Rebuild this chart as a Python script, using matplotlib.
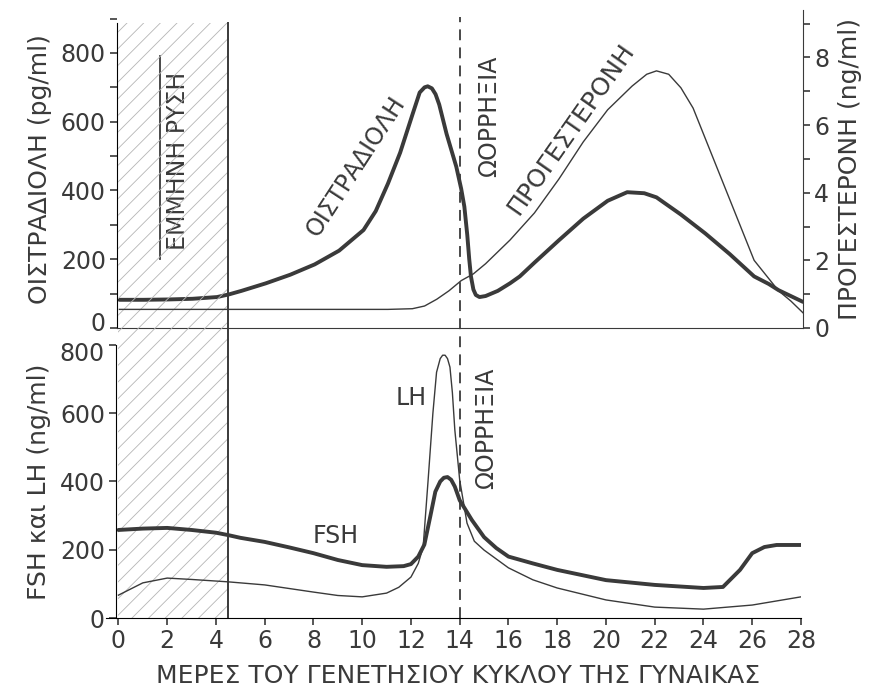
import matplotlib
matplotlib.use("Agg")
import matplotlib.pyplot as plt
from matplotlib.patches import Rectangle
from matplotlib.ticker import MultipleLocator
from matplotlib.transforms import ScaledTranslation

plt.rcParams['font.family'] = ['DejaVu Sans']
plt.rcParams['hatch.linewidth'] = 0.6

INK = '#3a3a3a'
FS = 17      # tick labels and texts inside the plot
FS_LAB = 18  # axis labels

# top panel: estradiol (pg/ml, left axis)
estr_day = [0, 1, 2, 3, 4, 4.5, 5, 6, 7, 8, 9, 10, 10.5, 11, 11.5, 12, 12.3, 12.5, 12.63, 12.8,
            12.95, 13.1, 13.4, 13.8, 14.0, 14.13, 14.25, 14.33, 14.4, 14.5, 14.6, 14.75, 15.0, 15.5,
            16.0, 16.4, 17, 18, 19, 20, 20.8, 21.5, 22, 23, 24, 25, 26, 26.6, 27, 28]
estr_val = [82, 82, 83, 85, 90, 98, 108, 130, 155, 185, 225, 285, 340, 420, 510, 620, 685, 700, 703, 697,
            680, 650, 565, 469, 405, 353, 270, 200, 150, 112, 96, 90, 93, 108,
            130, 150, 190, 255, 318, 370, 395, 392, 380, 330, 275, 215, 150, 128, 110, 76]

# top panel: progesterone (ng/ml, right axis)
prog_day = [0, 2, 4, 6, 8, 10, 11, 12, 12.5, 13, 13.5, 14, 14.5, 15, 16, 17, 18, 19, 20,
            21, 21.6, 22, 22.5, 23, 23.5, 24, 25, 26, 27, 27.5, 28]
prog_val = [0.55, 0.55, 0.55, 0.55, 0.55, 0.55, 0.55, 0.57, 0.65, 0.85, 1.1, 1.4, 1.6, 1.9, 2.6, 3.4, 4.4, 5.5, 6.45,
            7.15, 7.5, 7.6, 7.5, 7.1, 6.5, 5.6, 3.8, 2.0, 1.1, 0.8, 0.45]

# bottom panel: FSH and LH (ng/ml)
fsh_day = [0, 1, 2, 3, 4, 4.5, 5, 6, 7, 8, 9, 10, 11, 11.7, 12, 12.3, 12.55, 12.8, 13.0, 13.2, 13.35, 13.5,
           13.65, 13.8, 14, 14.5, 15, 15.5, 16, 17, 18, 20, 22, 24, 24.8, 25.5, 26, 26.5, 27, 28]
fsh_val = [258, 262, 264, 258, 250, 243, 235, 223, 207, 190, 170, 155, 150, 152, 158, 180, 215, 300, 370, 400, 411, 413,
           405, 385, 345, 287, 237, 205, 180, 160, 141, 111, 97, 88, 91, 141, 190, 208, 214, 214]
lh_day = [0, 0.5, 1, 2, 3, 4.5, 6, 8, 9, 10, 11, 11.5, 12, 12.3, 12.5, 12.7, 12.9, 13.05, 13.2, 13.3, 13.4,
          13.5, 13.6, 13.7, 13.8, 14, 14.3, 14.6, 15, 16, 17, 18, 20, 22, 24, 26, 28]
lh_val = [67, 85, 103, 117, 113, 106, 97, 76, 66, 62, 73, 90, 120, 160, 208, 400, 600, 720, 760, 770, 770,
          760, 735, 660, 551, 404, 278, 225, 199, 147, 112, 88, 53, 32, 26, 38, 62]

days = list(range(0, 29, 2))
menses_end = 4.5
ovulation = 14

fig = plt.figure(figsize=(8.69, 6.93), dpi=100)
ax_top = fig.add_axes([0.1346, 0.5267, 0.7894, 0.4589])
ax_bot = fig.add_axes([0.1335, 0.1082, 0.7882, 0.3940])
ax_top.set_facecolor('none')

# ---- bottom panel
ax_bot.set_xlim(-0.1, 28)
ax_bot.set_ylim(0, 800)
ax_bot.plot(fsh_day, fsh_val, color=INK, lw=2.8, solid_capstyle='round')
ax_bot.plot(lh_day, lh_val, color=INK, lw=1.0)
for s in ['top', 'right']:
    ax_bot.spines[s].set_visible(False)
ax_bot.spines['bottom'].set_bounds(-0.5, 28)
ax_bot.set_xticks(days)
ax_bot.set_yticks([0, 200, 400, 600, 800])
ax_bot.tick_params(direction='out', length=5, width=1.2, colors=INK, labelsize=FS, pad=3)
ax_bot.set_ylabel('FSH και LH (ng/ml)', fontsize=FS_LAB, color=INK, labelpad=6)
ax_bot.set_xlabel('ΜΕΡΕΣ ΤΟΥ ΓΕΝΕΤΗΣΙΟΥ ΚΥΚΛΟΥ ΤΗΣ ΓΥΝΑΙΚΑΣ', fontsize=FS_LAB, color=INK, labelpad=8)

# menses hatch spanning both panels, plus the vertical lines
ax_bot.add_patch(Rectangle((0, 0), menses_end, 1743, fill=False, hatch='//',
                           edgecolor='#b5b5b5', lw=0, clip_on=False, zorder=0))
ax_bot.plot([menses_end, menses_end], [0, 1743], color=INK, lw=1.4, clip_on=False)
ax_bot.plot([ovulation, ovulation], [0, 1760], color=INK, lw=1.3, ls=(0, (6, 4)), clip_on=False)

ax_bot.text(12.0, 645, 'LH', fontsize=FS, color=INK, ha='center', va='center')
ax_bot.text(8.9, 240, 'FSH', fontsize=FS, color=INK, ha='center', va='center')
ax_bot.text(15.1, 555, 'ΩΟΡΡΗΞΙΑ', fontsize=FS, color=INK, rotation=90, ha='center', va='center')

# ---- top panel
ax_top.set_xlim(-0.1, 28)
ax_top.set_ylim(0, 925)
ax_top.plot(estr_day, estr_val, color=INK, lw=2.8, solid_capstyle='round')
ax_top.spines['top'].set_visible(False)
ax_top.spines['right'].set_visible(False)
ax_top.spines['left'].set_bounds(0, 887)
ax_top.spines['bottom'].set_color(INK)
ax_top.set_xticks([])
ax_top.set_yticks([0, 200, 400, 600, 800])
ax_top.yaxis.set_minor_locator(MultipleLocator(100))
ax_top.tick_params(axis='y', which='both', direction='out', length=5, width=1.2, colors=INK, labelsize=FS, pad=3)
ax_top.set_ylabel('ΟΙΣΤΡΑΔΙΟΛΗ (pg/ml)', fontsize=FS_LAB, color=INK, labelpad=6)

ax_r = ax_top.twinx()
ax_r.set_ylim(0, 9.4)
ax_r.plot(prog_day, prog_val, color=INK, lw=1.0)
for s in ['top', 'left', 'bottom']:
    ax_r.spines[s].set_visible(False)
ax_r.spines['right'].set_color(INK)
ax_r.set_yticks([0, 2, 4, 6, 8])
ax_r.yaxis.set_minor_locator(MultipleLocator(1))
ax_r.tick_params(axis='y', which='both', direction='out', length=5, width=1.2, colors=INK, labelsize=FS, pad=3)
ax_r.set_ylabel('ΠΡΟΓΕΣΤΕΡΟΝΗ (ng/ml)', fontsize=FS_LAB, color=INK, labelpad=6)

# the two panels' "0" and "800" labels sit very close; nudge them apart a little
t0 = ax_top.yaxis.get_major_ticks()[0].label1
t0.set_transform(t0.get_transform() + ScaledTranslation(0, 5 / 72, fig.dpi_scale_trans))
t800 = ax_bot.yaxis.get_major_ticks()[-1].label1
t800.set_transform(t800.get_transform() + ScaledTranslation(0, -5 / 72, fig.dpi_scale_trans))

ax_top.text(2.42, 485, 'ΕΜΜΗΝΗ ΡΥΣΗ', fontsize=FS, color=INK, rotation=90, ha='center', va='center')
ax_top.plot([1.68, 1.68], [200, 790], color=INK, lw=1.3)
ax_top.text(9.7, 470, 'ΟΙΣΤΡΑΔΙΟΛΗ', fontsize=FS, color=INK, rotation=57, ha='center', va='center')
ax_top.text(15.15, 615, 'ΩΟΡΡΗΞΙΑ', fontsize=FS, color=INK, rotation=90, ha='center', va='center')
ax_top.text(18.5, 580, 'ΠΡΟΓΕΣΤΕΡΟΝΗ', fontsize=FS_LAB, color=INK, rotation=55, ha='center', va='center')

fig.savefig('out.png', dpi=100)
